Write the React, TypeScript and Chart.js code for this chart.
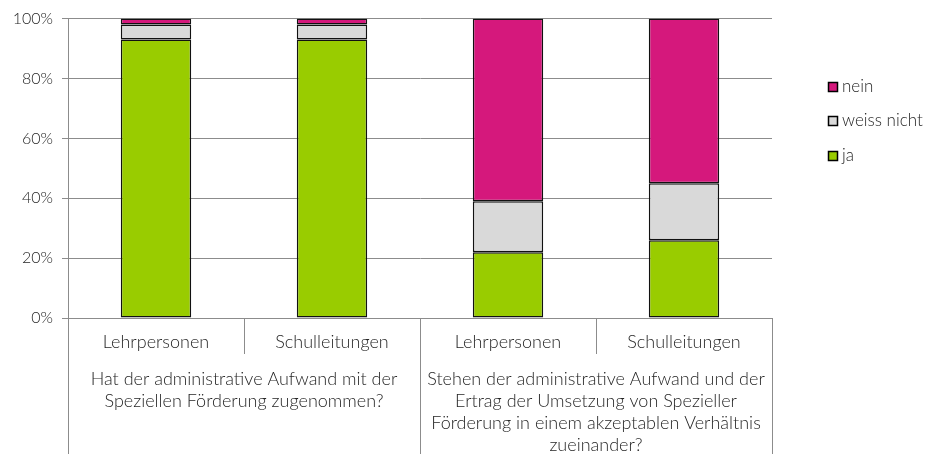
import React, { useEffect, useRef } from "react";
import { Chart, registerables } from "chart.js";

Chart.register(...registerables);

const categories = ["Lehrpersonen", "Schulleitungen", "Lehrpersonen", "Schulleitungen"];
const groups = [
  ["Hat der administrative Aufwand mit der", "Speziellen Förderung zugenommen?"],
  [
    "Stehen der administrative Aufwand und der",
    "Ertrag der Umsetzung von Spezieller",
    "Förderung in einem akzeptablen Verhältnis",
    "zueinander?",
  ],
];
const groupSizes = [2, 2];
const jaValues = [93, 93, 22, 26];
const weissNichtValues = [5, 5, 17, 19];
const neinValues = [2, 2, 61, 55];
const yTicks = [0, 20, 40, 60, 80, 100];

const FONT = "Lato, 'Open Sans', sans-serif";
const TEXT = "#262626";
const GRID = "#8c8c8c";

const groupPlugin = {
  id: "groupLabels",
  afterDraw(chart: any) {
    const { ctx, chartArea, scales } = chart;
    const x = scales.x;
    const bottom = chartArea.bottom;
    const H = chart.height;
    const n = categories.length;
    const step = (chartArea.right - chartArea.left) / n;
    ctx.save();
    ctx.strokeStyle = GRID;
    ctx.lineWidth = 1;
    let idx = 0;
    const boundaries: number[] = [0];
    groupSizes.forEach((s) => {
      idx += s;
      boundaries.push(idx);
    });
    for (let i = 0; i <= n; i++) {
      const px = Math.round(chartArea.left + i * step) + 0.5;
      const isGroup = boundaries.includes(i);
      ctx.beginPath();
      ctx.moveTo(px, bottom);
      ctx.lineTo(px, isGroup ? H : bottom + 36);
      ctx.stroke();
    }
    ctx.fillStyle = TEXT;
    ctx.font = `300 18px ${FONT}`;
    ctx.textAlign = "center";
    ctx.textBaseline = "middle";
    categories.forEach((c, i) => {
      const cx = x.getPixelForValue(i);
      ctx.fillText(c, cx, bottom + 24);
    });
    let start = 0;
    groups.forEach((lines, g) => {
      const l = chartArea.left + start * step;
      const r = chartArea.left + (start + groupSizes[g]) * step;
      const cx = (l + r) / 2;
      lines.forEach((line, k) => {
        ctx.fillText(line, cx, bottom + 61 + k * 22);
      });
      start += groupSizes[g];
    });
    const ds = chart.data.datasets.slice().reverse();
    const ly = [87, 121, 156];
    ds.forEach((d: any, i: number) => {
      const y = ly[i];
      ctx.fillStyle = d.backgroundColor;
      ctx.fillRect(828.5, y - 4.5, 9, 9);
      ctx.strokeStyle = "#000";
      ctx.lineWidth = 1.5;
      ctx.strokeRect(828.5, y - 4.5, 9, 9);
      ctx.fillStyle = TEXT;
      ctx.textAlign = "left";
      ctx.font = `300 17px ${FONT}`;
      ctx.fillText(d.label, 842, y);
    });
    ctx.restore();
  },
};

export default function App() {
  const ref = useRef<HTMLCanvasElement>(null);
  useEffect(() => {
    const chart = new Chart(ref.current!, {
      type: "bar",
      data: {
        labels: categories,
        datasets: [
          { label: "ja", data: jaValues, backgroundColor: "#99cc00" },
          { label: "weiss nicht", data: weissNichtValues, backgroundColor: "#d9d9d9" },
          { label: "nein", data: neinValues, backgroundColor: "#d5187c" },
        ].map((d) => ({
          ...d,
          borderColor: "#111111",
          borderWidth: 1.5,
          borderSkipped: false,
          barPercentage: 0.4,
          categoryPercentage: 1,
        })),
      },
      options: {
        animation: false,
        responsive: false,
        maintainAspectRatio: false,
        layout: { padding: { top: 18, right: 156, left: 0, bottom: 0 } },
        plugins: { legend: { display: false }, tooltip: { enabled: false } },
        scales: {
          x: {
            stacked: true,
            grid: { display: false },
            border: { display: true, color: GRID, width: 1 },
            ticks: { display: false },
            afterFit: (s: any) => {
              s.height = 136;
            },
          },
          y: {
            stacked: true,
            min: 0,
            max: 100,
            afterBuildTicks: (s: any) => {
              s.ticks = yTicks.map((v) => ({ value: v }));
            },
            ticks: {
              callback: (v: any) => v + "%",
              color: TEXT,
              font: { family: FONT, size: 16, weight: "300" },
              padding: 9,
            },
            grid: { color: GRID, tickLength: 6, lineWidth: 1 },
            border: { color: GRID, width: 1 },
            afterFit: (s: any) => {
              s.width = 68;
            },
          },
        },
      },
      plugins: [groupPlugin],
    } as any);
    return () => chart.destroy();
  }, []);
  return (
    <div style={{ position: "fixed", left: 0, top: 0, width: 928, height: 454, background: "#fff" }}>
      <canvas ref={ref} width={928} height={454} style={{ width: 928, height: 454 }} />
    </div>
  );
}
